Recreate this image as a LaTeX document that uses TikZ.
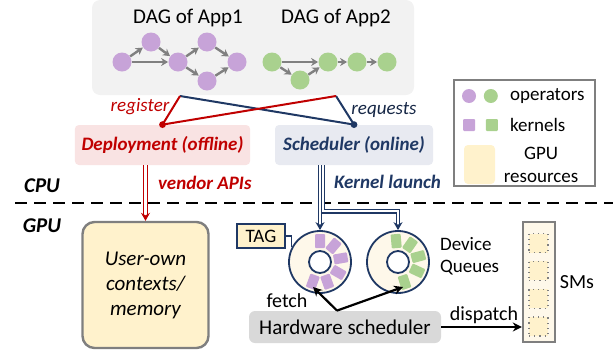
\documentclass[tikz,border=0pt]{standalone}
\usepackage{fontspec}
\setmainfont{Carlito}
\usetikzlibrary{positioning,arrows.meta,calc,backgrounds}

\definecolor{oppurple}{HTML}{C7A3D8}
\definecolor{opgreen}{HTML}{A9D18E}
\definecolor{edgegray}{HTML}{808080}
\definecolor{boxgray}{HTML}{F2F2F2}
\definecolor{regred}{HTML}{C00000}
\definecolor{navy}{HTML}{1F3864}
\definecolor{deployfill}{HTML}{F9E3E3}
\definecolor{schedfill}{HTML}{E8EAF1}
\definecolor{cream}{HTML}{FFF2CC}
\definecolor{ringfill}{HTML}{FEF8EA}
\definecolor{hwgray}{HTML}{D9D9D9}
\definecolor{framegray}{HTML}{7F7F7F}

\begin{document}
\begin{tikzpicture}[
  x=0.5pt, y=-0.5pt,
  font=\fontsize{9.5}{11.5}\selectfont,
  op/.style={circle, fill=#1, inner sep=0pt, minimum size=9.5pt},
  kern/.style={fill=#1, rounded corners=0.5pt, inner sep=0pt, minimum width=7pt, minimum height=5pt},
  dagedge/.style={-{Stealth[length=3.5pt,width=4pt]}, line width=1.2pt, draw=edgegray},
  role/.style={rounded corners=2pt, minimum height=20pt, font=\fontsize{9.5}{11}\selectfont\bfseries\itshape},
  link/.style={line width=1pt},
  dblarrow/.style={draw=#1, double=white, line width=0.55pt, double distance=1.3pt, -{Stealth[length=4pt,width=4.5pt]}},
  ring/.style={circle, draw=navy, line width=0.9pt, fill=ringfill, minimum size=31pt, inner sep=0pt},
  sep/.style={line width=1.3pt, dash pattern=on 6pt off 3.5pt},
  fetcharrow/.style={-{Stealth[length=4.5pt,width=4.5pt]}, line width=1.1pt}
]
\useasboundingbox (0,0) rectangle (613,354);

% applications
\node[fill=boxgray, rounded corners=4pt, minimum width=161pt, minimum height=47.5pt] (dag) at (253,47.5) {};
\node (t1) at (188,18) {\fontsize{10.5}{12}\selectfont DAG of App1};
\node (t2) at (336,18) {\fontsize{10.5}{12}\selectfont DAG of App2};

\node[op=oppurple] (a1) at (122,62) {};
\node[op=oppurple] (a2) at (151,42) {};
\node[op=oppurple] (a3) at (178,62) {};
\node[op=oppurple] (a4) at (207,42) {};
\node[op=oppurple] (a5) at (207,81) {};
\node[op=oppurple] (a6) at (237,62) {};
\foreach \s/\t in {a1/a2, a1/a3, a2/a3, a3/a4, a3/a5, a4/a6, a5/a6}
  \draw[dagedge] (\s) -- (\t);

\node[op=opgreen] (b1) at (272,62) {};
\node[op=opgreen] (b2) at (300,80) {};
\node[op=opgreen] (b3) at (328,62) {};
\node[op=opgreen] (b4) at (357,62) {};
\node[op=opgreen] (b5) at (387,62) {};
\foreach \s/\t in {b1/b3, b1/b2, b2/b3, b3/b4, b4/b5}
  \draw[dagedge] (\s) -- (\t);

% CPU side
\node[role, fill=deployfill, text=regred, minimum width=85.5pt] (deploy) at (162.5,145) {Deployment (offline)};
\node[role, fill=schedfill, text=navy, minimum width=79pt] (sched) at (354,145) {Scheduler (online)};

\coordinate (appA) at (180,96);
\coordinate (appB) at (336,96);
\draw[link, navy] (sched.north) -- (appA);
\draw[link, navy] (sched.north) -- (appB);
\draw[link, regred] (deploy.north) -- (appA);
\draw[link, regred] (deploy.north) -- (appB);
\fill[regred] (deploy.north) circle (1.7pt);
\fill[navy] (sched.north) circle (1.7pt);
\node[text=regred, font=\fontsize{9.5}{11}\selectfont\itshape] (reg) at (140,107) {register};
\node[text=navy!70!black, font=\fontsize{9.5}{11}\selectfont\itshape] (req) at (384,110) {requests};

\node[font=\fontsize{10.5}{12}\selectfont\bfseries\itshape] (cpu) at (42,186) {CPU};
\node[font=\fontsize{10.5}{12}\selectfont\bfseries\itshape] (gpu) at (42,226) {GPU};
\draw[sep] (15,203) -- (613,203);

% GPU side
\node[draw=framegray, line width=1.2pt, fill=cream, rounded corners=6pt, minimum width=63pt, minimum height=63pt,
  align=center, font=\fontsize{10.5}{12.5}\selectfont\itshape] (ctx) at (145.5,285) {User-own\\contexts/\\memory};
\draw[dblarrow=regred] (deploy.south -| ctx.north) -- (ctx.north);
\node[anchor=west, text=regred, font=\fontsize{9.5}{11}\selectfont\bfseries\itshape] (vapi) at (151,183) {vendor APIs};

\node[ring] (ring1) at (320,262) {};
\node[ring] (ring2) at (398,262) {};
\fill[white, draw=navy, line width=0.9pt] (ring1) circle (5.5pt);
\fill[white, draw=navy, line width=0.9pt] (ring2) circle (5.5pt);
\foreach \a in {90,50,10,-30,-70,-110}
  \node[kern=oppurple, rotate=\a] at ($(ring1)+(\a:10.5pt)$) {};
\foreach \a in {95,55,15,-25,-72}
  \node[kern=opgreen, rotate=\a] at ($(ring2)+(\a:10.5pt)$) {};

\draw[dblarrow=navy] ($(sched.south -| ring1.north)+(3,0)$) |- ($(ring2.north)+(0,-19)$) -- (ring2.north);
\draw[dblarrow=navy] (sched.south -| ring1.north) -- (ring1.north);
\node[anchor=west, text=navy, font=\fontsize{9.5}{11}\selectfont\bfseries\itshape] (klaunch) at (327,182) {Kernel launch};

\node[draw=navy, line width=0.8pt, fill=cream, minimum width=24pt, minimum height=12pt, inner sep=0pt] (tag) at (261,236) {TAG};
\draw[navy, line width=0.6pt] (tag.east) -| (ring1.152);

\node[anchor=west, align=left, font=\fontsize{9.5}{11}\selectfont] (dq) at (433,256) {Device\\Queues};

\node[fill=hwgray, rounded corners=3pt, minimum width=96pt, minimum height=16pt, font=\fontsize{10.5}{12}\selectfont] (hw) at (345,327) {Hardware scheduler};
\coordinate (fsrc) at ($(hw.north)+(-8,0)$);
\draw[fetcharrow] (fsrc) -- ($(ring1)+(-7,25)$);
\draw[fetcharrow] (fsrc) -- ($(ring2)+(5,25)$);
\node[font=\fontsize{10}{12}\selectfont] (fetch) at (287,301) {fetch};

\node[draw=framegray, line width=1.2pt, fill=ringfill, minimum width=16pt, minimum height=60pt, inner sep=0pt] (sms) at (539,282) {};
\foreach \i in {0,...,3}
  \node[draw=gray, dotted, line width=0.6pt, fill=cream, minimum size=9.5pt, inner sep=0pt] (sm\i) at (538.5,243+27.8*\i) {};
\node[font=\fontsize{10}{12}\selectfont] (smlabel) at (577,282) {SMs};
\draw[fetcharrow, line width=0.9pt] (hw.east) -- (hw.east -| sms.west);
\node[font=\fontsize{10}{12}\selectfont] (disp) at (484,315) {dispatch};

% legend
\node[draw=framegray, line width=1pt, minimum width=70.5pt, minimum height=53pt] (legend) at (524.5,133) {};
\node[op=oppurple, minimum size=7pt] (lop1) at (469,96) {};
\node[op=opgreen, minimum size=7pt, right=3.5pt of lop1] (lop2) {};
\node[anchor=west] (lopt) at (503,96) {operators};
\node[kern=oppurple, minimum size=6pt] (lk1) at (469,125) {};
\node[kern=opgreen, minimum size=6pt, right=5pt of lk1] (lk2) {};
\node[anchor=west] (lkt) at (503,125) {kernels};
\node[fill=cream, rounded corners=2pt, minimum width=15.5pt, minimum height=19.5pt] (lres) at (479.5,164.5) {};
\node[align=center] (lrest) at (541,165) {GPU\\resources};
\end{tikzpicture}
\end{document}
